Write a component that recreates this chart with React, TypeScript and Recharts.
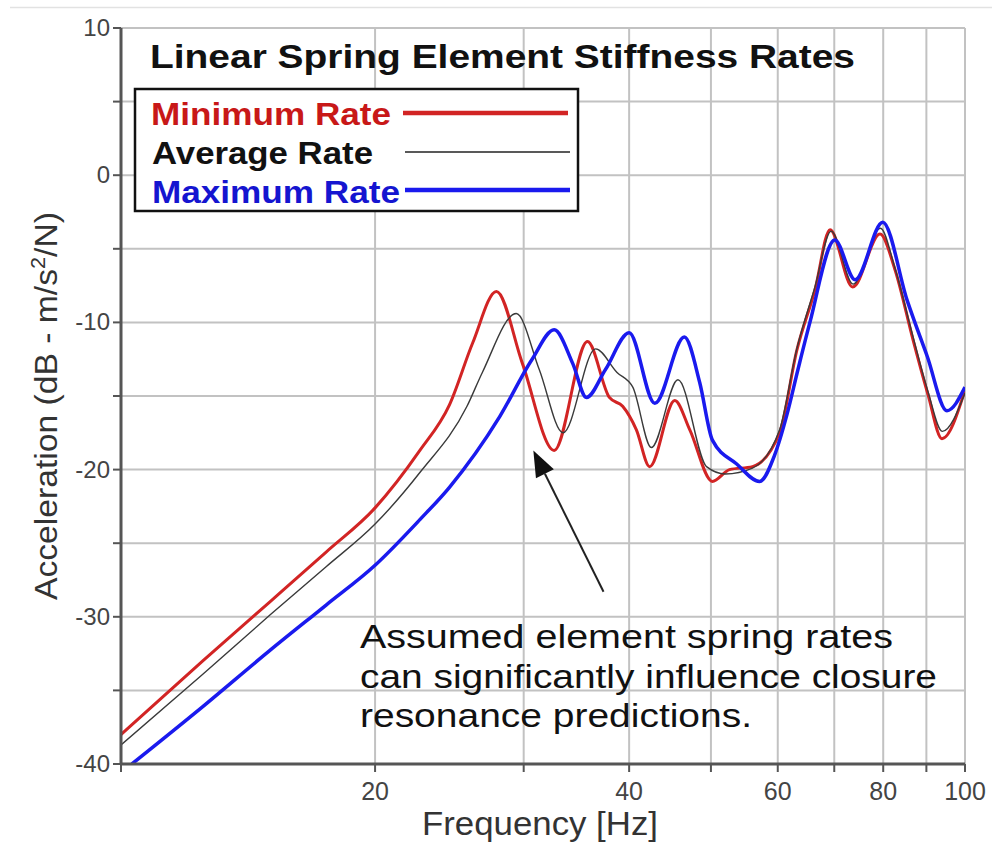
import React from "react"
import {
  LineChart,
  Line,
  XAxis,
  YAxis,
  CartesianGrid,
  ReferenceLine
} from "recharts"

// axis ticks
const freqTicks = [10, 20, 30, 40, 50, 60, 70, 80, 90, 100]
const freqLabels = [20, 40, 60, 80, 100]
const accelTicks = [-40, -35, -30, -25, -20, -15, -10, -5, 0, 5, 10]
const accelLabels = [-40, -30, -20, -10, 0, 10]

// Minimum Rate (red)
const minFreq = [10, 12.5, 15, 17.5, 20, 22.6, 24.5, 26.1, 27.85, 29.9, 32.6, 35.7, 37.9, 39.3, 40.8, 42.3, 45.3, 47.2, 50.2, 52.6, 56, 60.3, 63.2, 66.4, 69.2, 73.6, 79.3, 82.6, 86.8, 90.4, 93.9, 100]
const minAccel = [-38.0, -33.0, -29.0, -25.6, -22.6, -18.7, -15.6, -11.4, -7.9, -12.8, -18.7, -11.3, -15.1, -15.7, -17.3, -19.8, -15.3, -17.3, -20.8, -20.0, -19.8, -17.5, -11.9, -7.8, -3.7, -7.6, -4.0, -6.4, -11.2, -14.9, -17.9, -14.6]

// Average Rate (black)
const avgFreq = [10, 12.5, 15, 17.5, 20, 22.6, 25.7, 26.8, 29.4, 31.3, 33.4, 36.5, 38.7, 40.4, 42.5, 45.7, 49.4, 52, 56, 60.3, 63.2, 66.4, 69.4, 73.7, 79.4, 82.6, 86.8, 90.4, 94, 100]
const avgAccel = [-38.7, -33.9, -29.9, -26.6, -23.7, -20.2, -15.7, -13.4, -9.4, -13.2, -17.5, -11.8, -13.4, -14.4, -18.5, -13.9, -19.8, -20.3, -19.9, -17.3, -11.8, -7.6, -3.8, -7.4, -3.6, -6.3, -11.0, -14.7, -17.4, -14.8]

// Maximum Rate (blue)
const maxFreq = [10.3, 12.5, 15, 17.5, 20, 22.6, 24.5, 28.1, 30.7, 32.6, 34.3, 35.6, 37.5, 40, 42.9, 46.5, 48.5, 50.2, 53.6, 57.1, 59.5, 61.5, 63.4, 65.5, 70.1, 74.1, 79.9, 85.4, 90.2, 95.2, 100]
const maxAccel = [-40.0, -36.1, -32.3, -29.2, -26.5, -23.4, -21.2, -16.4, -12.5, -10.5, -12.8, -15.1, -13.2, -10.7, -15.5, -11.0, -14.1, -18.0, -19.6, -20.8, -19.0, -16.3, -13.2, -10.0, -4.4, -7.1, -3.2, -8.5, -12.3, -16.0, -14.4]

// annotation arrow (tail -> tip)
const arrowFreq = [37.3, 30.8]
const arrowAccel = [-28.3, -18.7]

const toRows = (fs: number[], vs: number[]) => fs.map((f, i) => ({ f, a: vs[i] }))

const minData = toRows(minFreq, minAccel)
const avgData = toRows(avgFreq, avgAccel)
const maxData = toRows(maxFreq, maxAccel)

const FONT = "'Liberation Sans', Arial, sans-serif"

function FreqTick(props: any) {
  const { x, y, payload } = props
  if (!freqLabels.includes(payload.value)) return <g />
  return (
    <text x={x} y={y + 28} textAnchor="middle" fontSize={25} fill="#444" fontFamily={FONT}>
      {payload.value}
    </text>
  )
}

function AccelTick(props: any) {
  const { x, y, payload } = props
  if (!accelLabels.includes(payload.value)) return <g />
  return (
    <text x={x} y={y + 8} textAnchor="end" fontSize={24} fill="#444" fontFamily={FONT}>
      {payload.value}
    </text>
  )
}

function ArrowShape(props: any) {
  const { x1, y1, x2, y2 } = props
  const ang = Math.atan2(y2 - y1, x2 - x1)
  const len = 26
  const half = 10
  const bx = x2 - len * Math.cos(ang)
  const by = y2 - len * Math.sin(ang)
  const px = -Math.sin(ang) * half
  const py = Math.cos(ang) * half
  return (
    <g>
      <line x1={x1} y1={y1} x2={bx} y2={by} stroke="#222" strokeWidth={2} />
      <polygon points={`${x2},${y2} ${bx + px},${by + py} ${bx - px},${by - py}`} fill="#111" />
    </g>
  )
}

export default function App() {
  return (
    <div style={{ position: "absolute", left: 0, top: 0, width: 992, height: 842, background: "#fff", fontFamily: FONT }}>

      <LineChart width={992} height={842} data={minData} margin={{ top: 28, right: 27, bottom: 0, left: 0 }}>

        <CartesianGrid stroke="#c2c2c2" strokeWidth={2} />

        <XAxis
          type="number"
          dataKey="f"
          scale="log"
          domain={[10, 100]}
          allowDataOverflow
          ticks={freqTicks}
          height={78}
          tickSize={8}
          tickMargin={0}
          tickLine={{ stroke: "#555", strokeWidth: 2 }}
          axisLine={{ stroke: "#555", strokeWidth: 3 }}
          tick={<FreqTick />}
        />

        <XAxis
          xAxisId="top"
          orientation="top"
          type="number"
          dataKey="f"
          scale="log"
          domain={[10, 100]}
          allowDataOverflow
          height={0}
          tick={false}
          tickLine={false}
          axisLine={{ stroke: "#555", strokeWidth: 3 }}
        />

        <YAxis
          type="number"
          domain={[-40, 10]}
          allowDataOverflow
          ticks={accelTicks}
          width={121}
          tickSize={8}
          tickMargin={3}
          tickLine={{ stroke: "#555", strokeWidth: 2 }}
          axisLine={{ stroke: "#555", strokeWidth: 3 }}
          tick={<AccelTick />}
        />

        <YAxis
          yAxisId="right"
          orientation="right"
          type="number"
          domain={[-40, 10]}
          width={0}
          tick={false}
          tickLine={false}
          axisLine={{ stroke: "#444", strokeWidth: 3 }}
        />

        <Line
          data={minData}
          dataKey="a"
          type="monotone"
          stroke="#d22424"
          strokeWidth={3}
          dot={false}
          isAnimationActive={false}
        />

        <Line
          data={avgData}
          dataKey="a"
          type="monotone"
          stroke="#3a3a3a"
          strokeWidth={1.4}
          dot={false}
          isAnimationActive={false}
        />

        <Line
          data={maxData}
          dataKey="a"
          type="monotone"
          stroke="#1a1aee"
          strokeWidth={3.5}
          dot={false}
          isAnimationActive={false}
        />

        <ReferenceLine
          segment={[
            { x: arrowFreq[0], y: arrowAccel[0] },
            { x: arrowFreq[1], y: arrowAccel[1] }
          ]}
          shape={ArrowShape}
        />

      </LineChart>

      <svg width={992} height={842} style={{ position: "absolute", left: 0, top: 0, pointerEvents: "none" }}>

        <line x1={10} y1={7.5} x2={992} y2={7.5} stroke="#e2e2e2" strokeWidth={1.5} />

        <text x={150} y={68} fontSize={34} fontWeight="bold" fill="#111" textLength={705} lengthAdjust="spacingAndGlyphs">
          Linear Spring Element Stiffness Rates
        </text>

        <rect x={135} y={89} width={443} height={122} fill="#fff" stroke="#111" strokeWidth={2.5} />

        <text x={151} y={125} fontSize={31} fontWeight="bold" fill="#c81818" textLength={240} lengthAdjust="spacingAndGlyphs">
          Minimum Rate
        </text>
        <line x1={403} y1={113} x2={568} y2={113} stroke="#d22424" strokeWidth={4.5} />

        <text x={152} y={164} fontSize={31} fontWeight="bold" fill="#111" textLength={221} lengthAdjust="spacingAndGlyphs">
          Average Rate
        </text>
        <line x1={405} y1={152} x2={570} y2={152} stroke="#222" strokeWidth={1.5} />

        <text x={152} y={203} fontSize={31} fontWeight="bold" fill="#1515d0" textLength={248} lengthAdjust="spacingAndGlyphs">
          Maximum Rate
        </text>
        <line x1={405} y1={190} x2={570} y2={190} stroke="#1a1aee" strokeWidth={4.5} />

        <text fontSize={34} fill="#111">
          <tspan x={360} y={648} textLength={533} lengthAdjust="spacingAndGlyphs">Assumed element spring rates</tspan>
          <tspan x={360} y={688} textLength={577} lengthAdjust="spacingAndGlyphs">can significantly influence closure</tspan>
          <tspan x={360} y={727} textLength={392} lengthAdjust="spacingAndGlyphs">resonance predictions.</tspan>
        </text>

        <text transform="translate(57,406) rotate(-90)" textAnchor="middle" fontSize={31} fill="#333" textLength={388} lengthAdjust="spacingAndGlyphs">
          Acceleration (dB - m/s<tspan fontSize={20} dy={-12}>2</tspan><tspan dy={12}>/N)</tspan>
        </text>

        <text x={540} y={835} textAnchor="middle" fontSize={33} fill="#333" textLength={236} lengthAdjust="spacingAndGlyphs">
          Frequency [Hz]
        </text>

      </svg>

    </div>
  )
}
